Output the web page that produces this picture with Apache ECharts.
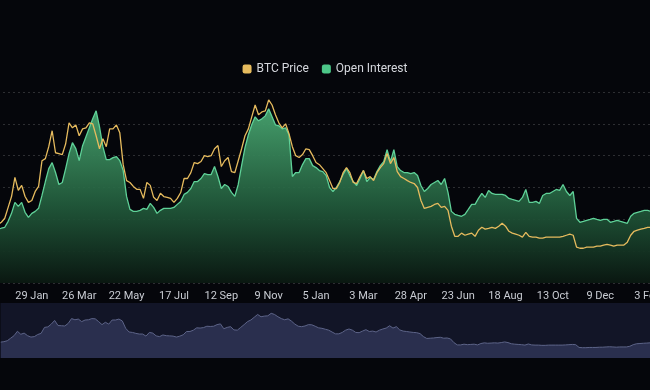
<!DOCTYPE html>
<html>
<head>
<meta charset="utf-8">
<script src="https://cdn.jsdelivr.net/npm/echarts@6/dist/echarts.min.js"></script>
<style>
html,body{margin:0;padding:0;background:#05060b;}
#chart{width:650px;height:390px;}
</style>
</head>
<body>
<div id="chart"></div>
<script>
// Tick labels shown along the x axis (every 14th sample, starting at sample 10)
const tickLabels = ['29 Jan','26 Mar','22 May','17 Jul','12 Sep','9 Nov','5 Jan','3 Mar','28 Apr','23 Jun','18 Aug','13 Oct','9 Dec','3 Feb'];
const firstTick = 10;
const tickStep = 14;

// BTC price (thousand USD), one sample every ~4 days
const priceK = [22.1,22.9,24.4,28.5,32.6,39.8,34.9,36.8,32.6,30.4,
31.1,34.5,36.4,46.1,46.9,51.4,57.4,49.1,48.8,48.4,
52.5,60.4,58.5,59.6,55.5,58.1,58.5,60.4,60.0,55.5,
50.6,54.4,51.4,58.1,58.1,59.6,56.6,44.6,38.6,37.9,
36.4,35.3,35.3,31.9,37.9,36.8,32.3,31.1,33.8,32.6,
32.3,31.9,30.4,31.9,34.1,39.4,39.4,41.6,45.4,45.0,
45.8,48.0,47.6,48.0,50.6,51.8,43.9,46.1,47.3,42.0,
41.6,46.1,50.6,55.5,58.1,62.6,67.1,63.4,64.5,64.9,
69.0,67.1,63.4,60.4,58.5,60.0,56.3,51.4,48.0,47.3,
48.4,50.6,50.3,48.0,45.4,44.6,43.1,41.6,38.6,35.6,
35.6,37.9,41.6,43.5,41.6,37.9,37.5,40.1,42.4,39.4,
40.1,38.6,41.6,43.5,45.0,48.8,45.0,47.3,42.0,40.1,
39.4,38.6,37.9,37.5,36.0,31.1,28.1,28.5,28.9,29.6,
30.0,28.5,28.9,27.4,21.4,17.6,17.6,18.8,18.0,18.4,
18.8,17.6,19.9,21.0,20.3,20.6,21.0,20.6,21.4,22.5,
21.4,19.5,18.8,18.4,18.0,17.3,19.1,17.6,17.3,17.3,
16.9,16.9,17.3,17.3,17.3,17.3,17.3,17.6,18.0,18.4,
18.0,13.5,13.1,13.1,13.5,13.5,13.5,13.9,13.9,14.3,
14.6,14.3,13.9,14.3,14.3,14.3,15.4,18.0,19.5,19.9,
20.3,20.6,21.0,21.0];

// Open interest (billion USD)
const oiB = [6.75,6.88,7.0,7.75,8.75,10.13,9.63,10.13,8.88,8.25,
8.75,9.0,9.38,11.0,12.75,14.38,15.13,13.88,12.38,12.63,
14.38,16.25,17.63,16.88,15.38,17.25,18.38,19.5,20.63,21.63,
19.63,17.13,15.5,15.5,15.75,15.88,15.38,14.13,10.88,9.25,
9.0,9.0,9.13,9.38,9.25,10.0,9.5,8.75,9.13,9.38,
9.38,9.38,9.5,9.88,10.25,11.13,11.38,11.88,12.75,12.75,
13.13,13.75,13.63,13.63,14.63,13.38,11.88,12.38,12.13,11.38,
10.88,12.38,14.75,17.0,18.63,19.88,20.88,20.38,20.63,21.0,
21.88,20.88,19.88,19.75,19.38,19.5,18.63,13.38,13.88,13.88,
14.88,15.63,15.63,14.75,14.5,14.13,14.0,13.5,12.0,11.5,
12.0,12.75,13.63,14.38,13.5,12.75,12.25,13.13,14.13,12.75,
13.25,13.0,14.0,14.75,15.25,16.75,15.25,16.75,14.63,14.13,
13.88,13.88,13.75,13.88,13.5,12.25,11.5,11.88,12.38,12.63,
12.88,12.38,13.13,11.38,9.0,8.63,8.5,8.38,8.63,9.25,
9.88,9.88,10.63,11.25,10.75,11.63,11.25,11.13,11.13,11.13,
11.0,10.63,10.5,10.38,10.25,10.75,11.75,10.13,10.13,10.25,
10.0,11.0,11.25,11.25,11.5,11.75,11.63,12.38,11.5,11.0,
11.5,8.13,7.63,7.75,7.88,8.0,8.13,8.0,7.88,8.0,
8.0,7.63,7.75,7.88,7.75,7.63,7.5,8.38,8.75,8.88,
9.0,9.13,9.13,9.0];

// category per sample; tick positions carry the tick label text
const categories = priceK.map(function (_, i) {
  const k = i - firstTick;
  return (k >= 0 && k % tickStep === 0 && tickLabels[k / tickStep]) ? tickLabels[k / tickStep] : ('s' + i);
});

const chart = echarts.init(document.getElementById('chart'), null, {renderer: 'canvas'});
const FONT = 'Roboto, "Noto Sans", sans-serif';
chart.setOption({
  backgroundColor: '#05060b',
  animation: false,
  legend: {
    top: 58,
    left: 'center',
    icon: 'roundRect',
    itemWidth: 9,
    itemHeight: 9,
    itemGap: 13,
    textStyle: {color: '#d6d8de', fontSize: 12, fontFamily: FONT},
    data: ['BTC Price', 'Open Interest']
  },
  grid: {left: -2, right: -1, top: 92, bottom: 107, containLabel: false, outerBoundsMode: 'none'},
  xAxis: {
    type: 'category',
    data: categories,
    boundaryGap: false,
    axisLine: {show: false},
    axisTick: {show: false},
    splitLine: {show: false},
    axisLabel: {
      color: '#c9ccd3',
      fontSize: 11,
      fontFamily: FONT,
      margin: 8,
      interval: function (index) {
        const k = index - firstTick;
        return k >= 0 && k % tickStep === 0;
      }
    }
  },
  yAxis: [
    {
      type: 'value', min: 0, max: 72, interval: 12,
      axisLabel: {show: false}, axisLine: {show: false}, axisTick: {show: false},
      splitLine: {show: true, lineStyle: {color: 'rgba(255,255,255,0.16)', type: [2, 3], width: 1}}
    },
    {
      type: 'value', min: 0, max: 24, interval: 4,
      axisLabel: {show: false}, axisLine: {show: false}, axisTick: {show: false},
      splitLine: {show: false}
    }
  ],
  dataZoom: [{
    type: 'slider',
    xAxisIndex: 0,
    start: 0, end: 100,
    left: -2, right: -1, top: 303, height: 55,
    backgroundColor: '#121527',
    borderColor: 'transparent',
    fillerColor: 'rgba(0,0,0,0)',
    showDetail: false,
    brushSelect: false,
    moveHandleSize: 0,
    handleSize: 0,
    handleStyle: {opacity: 0},
    moveHandleStyle: {opacity: 0},
    emphasis: {handleStyle: {opacity: 0}, moveHandleStyle: {opacity: 0}},
    dataBackground: {
      lineStyle: {color: '#5d6488', width: 1, opacity: 1},
      areaStyle: {color: '#2a2f4e', opacity: 1}
    },
    selectedDataBackground: {
      lineStyle: {color: '#5d6488', width: 1, opacity: 1},
      areaStyle: {color: '#2a2f4e', opacity: 1}
    }
  }],
  series: [
    {
      name: 'BTC Price',
      type: 'line',
      yAxisIndex: 0,
      data: priceK,
      symbol: 'none',
      z: 4,
      itemStyle: {color: '#e6bb5e'},
      lineStyle: {color: '#e6bb5e', width: 1.3}
    },
    {
      name: 'Open Interest',
      type: 'line',
      yAxisIndex: 1,
      data: oiB,
      symbol: 'none',
      z: 2,
      itemStyle: {color: '#4cc688'},
      lineStyle: {color: '#5fd198', width: 1.3},
      areaStyle: {
        opacity: 1,
        color: new echarts.graphic.LinearGradient(0, 0, 0, 1, [
          {offset: 0, color: 'rgba(72,165,112,0.95)'},
          {offset: 0.55, color: 'rgba(34,92,60,0.92)'},
          {offset: 1, color: 'rgba(10,24,17,0.95)'}
        ])
      }
    }
  ]
});
</script>
</body>
</html>
